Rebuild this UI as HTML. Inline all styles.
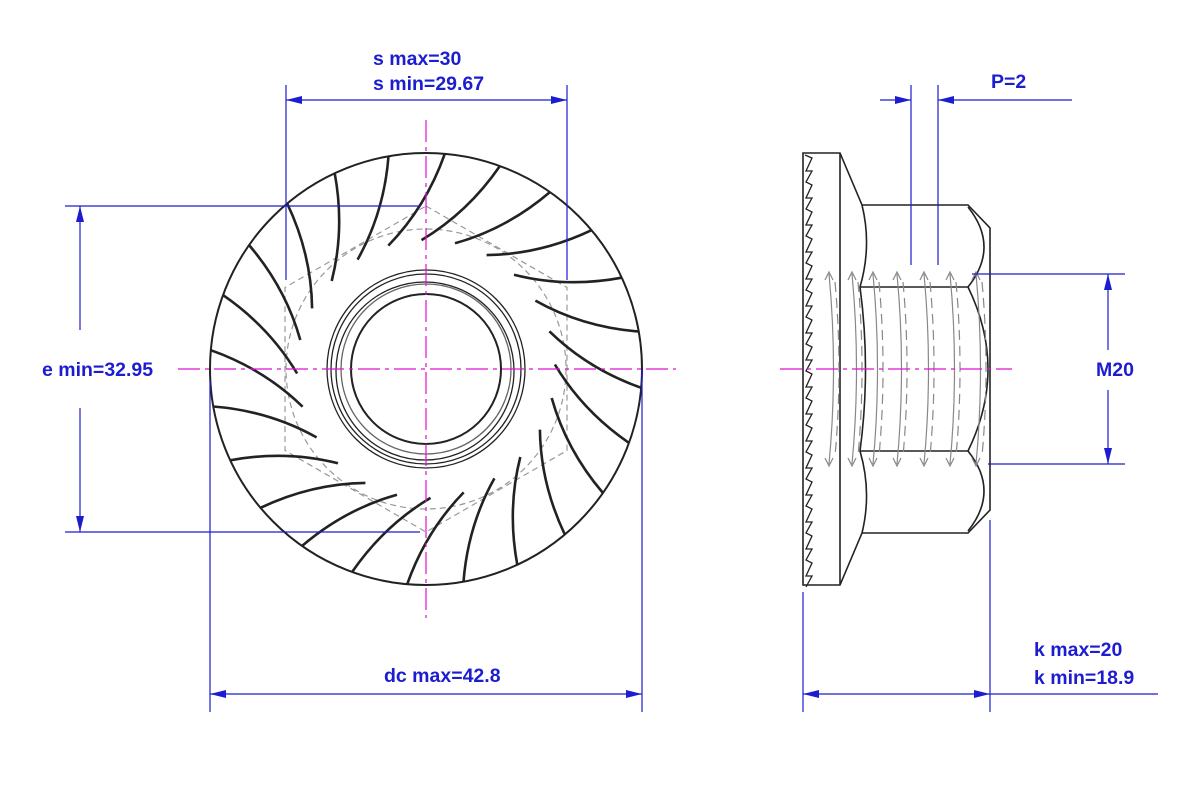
<!DOCTYPE html>
<html><head><meta charset="utf-8"><style>
html,body{margin:0;padding:0;background:#fff;}
svg{display:block;}
text{font-family:"Liberation Sans",Arial,sans-serif;font-weight:bold;font-size:19.5px;fill:#1c1cd0;}
</style></head><body>
<svg id="s" width="1200" height="800" viewBox="0 0 1200 800" xmlns="http://www.w3.org/2000/svg">
<defs>
<marker id="a" viewBox="0 0 16 8" refX="16" refY="4" markerWidth="16" markerHeight="8" markerUnits="userSpaceOnUse" orient="auto-start-reverse"><path d="M0,0 L16,4 L0,8 Z" fill="#1c1cd0"/></marker>
</defs>
<g id="front" fill="none" stroke="#222" stroke-width="2">
<circle cx="426" cy="369" r="216"/>
<g stroke-width="1.3">
<circle cx="426" cy="369" r="99"/>
<circle cx="426" cy="369" r="95"/>
<circle cx="425" cy="371" r="89"/>
<circle cx="426" cy="369" r="85" stroke="#666"/>
<circle cx="426" cy="369" r="75" stroke-width="2"/>
</g>
<g stroke="#999" stroke-width="1.2" stroke-dasharray="6,4">
<polygon points="426,206 567,287.5 567,450.5 426,532 285,450.5 285,287.5"/>
<circle cx="426" cy="369" r="140"/>
</g>
<g id="teeth" stroke-width="2.6"></g>
</g>
<g id="side" fill="none" stroke="#222" stroke-width="1.6">
<path d="M803,153 L840,153 L862,205 Q872,246 860,287 Q871,369 860,451 Q872,492 862,533 L840,585 L803,585 Z"/>
<line x1="840" y1="153" x2="840" y2="585"/>
<path d="M862,205 L968,205 L990,228 L990,510 L968,533 L862,533"/>
<path d="M968,207 Q1000,247 968,287 Q1008,369 968,451 Q1000,491 968,531"/>
<line x1="860" y1="287" x2="968" y2="287"/>
<line x1="860" y1="451" x2="968" y2="451"/>
<g id="thr" stroke="#888" stroke-width="1.2"></g>
<path id="saw" stroke-width="1.3"></path>
</g>
<g stroke="#e010d0" stroke-width="1.2" stroke-dasharray="22,5,4,5" fill="none">
<line x1="178" y1="369" x2="676" y2="369"/>
<line x1="426" y1="120" x2="426" y2="618"/>
<line x1="780" y1="369" x2="1012" y2="369"/>
</g>
<g stroke="#1c1cd0" stroke-width="1.2" fill="none">
<line x1="286" y1="85" x2="286" y2="280"/>
<line x1="567" y1="85" x2="567" y2="280"/>
<line x1="286" y1="100" x2="567" y2="100" marker-start="url(#a)" marker-end="url(#a)"/>
<line x1="65" y1="206" x2="420" y2="206"/>
<line x1="65" y1="532" x2="420" y2="532"/>
<line x1="80" y1="330" x2="80" y2="206" marker-end="url(#a)"/>
<line x1="80" y1="408" x2="80" y2="532" marker-end="url(#a)"/>
<line x1="210" y1="380" x2="210" y2="712"/>
<line x1="642" y1="369" x2="642" y2="712"/>
<line x1="210" y1="694" x2="642" y2="694" marker-start="url(#a)" marker-end="url(#a)"/>
<line x1="911" y1="85" x2="911" y2="265"/>
<line x1="938" y1="85" x2="938" y2="265"/>
<line x1="880" y1="100" x2="911" y2="100" marker-end="url(#a)"/>
<line x1="1072" y1="100" x2="938" y2="100" marker-end="url(#a)"/>
<line x1="972" y1="274" x2="1125" y2="274"/>
<line x1="988" y1="464" x2="1125" y2="464"/>
<line x1="1108" y1="350" x2="1108" y2="274" marker-end="url(#a)"/>
<line x1="1108" y1="390" x2="1108" y2="464" marker-end="url(#a)"/>
<line x1="803" y1="592" x2="803" y2="712"/>
<line x1="990" y1="520" x2="990" y2="712"/>
<line x1="803" y1="694" x2="990" y2="694" marker-start="url(#a)" marker-end="url(#a)"/>
<line x1="990" y1="694" x2="1158" y2="694"/>
</g>
<text x="373" y="65">s max=30</text>
<text x="373" y="90">s min=29.67</text>
<text x="42" y="376">e min=32.95</text>
<text x="384" y="682">dc max=42.8</text>
<text x="991" y="88">P=2</text>
<text x="1096" y="376">M20</text>
<text x="1034" y="656">k max=20</text>
<text x="1034" y="684">k min=18.9</text>
</svg>
<script>
var NS="http://www.w3.org/2000/svg";
function el(p,t,a){var e=document.createElementNS(NS,t);for(var k in a)e.setAttribute(k,a[k]);p.appendChild(e);return e;}
var cx=426,cy=369,R=216,r=129,g=document.getElementById('teeth');
function P(rad,deg){var t=deg*Math.PI/180;return [cx+rad*Math.cos(t),cy+rad*Math.sin(t)];}
for(var i=0;i<24;i++){var th=-85+i*15;var o=P(R,th),n=P(r,th-22),c=P(162,th-5);
el(g,'path',{d:'M'+o[0].toFixed(1)+','+o[1].toFixed(1)+' Q'+c[0].toFixed(1)+','+c[1].toFixed(1)+' '+n[0].toFixed(1)+','+n[1].toFixed(1)});}
var t=document.getElementById('thr');
var xs=[829,852,873,897,924,950,976];
xs.forEach(function(x){
el(t,'path',{d:'M'+x+',274 Q'+(x+9)+',369 '+x+',464'});
el(t,'path',{d:'M'+(x+6)+',282 Q'+(x+14)+',369 '+(x+6)+',456','stroke-dasharray':'10,6'});
el(t,'path',{d:'M'+(x-4)+',280 L'+x+',272 L'+(x+4)+',280 M'+(x-4)+',458 L'+x+',466 L'+(x+4)+',458'});
});
var d='M805,155';for(var y=155;y<583;y+=27){d+=' L812,'+(y+3)+' L806,'+(y+16)+' L812,'+(y+16)+' L806,'+(y+27);}
document.getElementById('saw').setAttribute('d',d);
</script>
</body></html>
